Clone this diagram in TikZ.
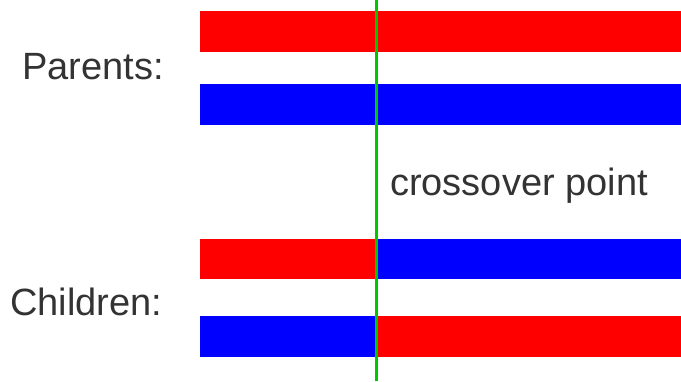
\documentclass[tikz,border=0pt]{standalone}
\usepackage{fontspec}
\setmainfont{Liberation Sans}
\definecolor{cgreen}{RGB}{0,200,0}
\begin{document}
\begin{tikzpicture}[x=1pt,y=-1pt,
  lbl/.style={anchor=base west,inner sep=0pt,text=black!80,font=\fontsize{38}{40}\selectfont},
  redbar/.style={fill=red,draw=none},
  bluebar/.style={fill=blue,draw=none}]
\useasboundingbox (0,0) rectangle (681,381);
\fill[white] (0,0) rectangle (681,381);
% parents
\path[redbar] (200,11) rectangle (681,52);
\path[bluebar] (200,84) rectangle (681,125);
% children
\path[redbar] (200,239) rectangle (376,279);
\path[bluebar] (376,239) rectangle (681,279);
\path[bluebar] (200,316) rectangle (376,357);
\path[redbar] (376,316) rectangle (681,357);
% labels
\node[lbl] (parents) at (22,79) {Parents:};
\node[lbl] (children) at (10,315) {Children:};
\node[lbl] (cross) at (390,195) {crossover point};
% crossover line
\coordinate (ctop) at (376.5,0);
\coordinate (cbot) at (376.5,381);
\draw[cgreen,line width=3pt] (ctop) -- (cbot);
\end{tikzpicture}
\end{document}
